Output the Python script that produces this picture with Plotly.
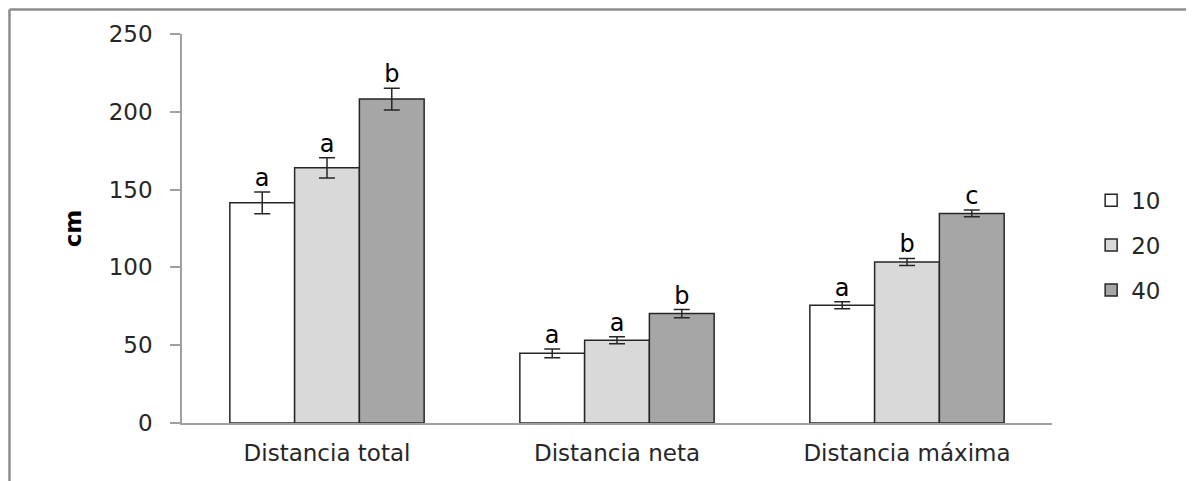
import plotly.graph_objects as go

categories = ["Distancia total", "Distancia neta", "Distancia máxima"]
series_names = ["10", "20", "40"]
values_10 = [141.5, 44.8, 75.7]
values_20 = [164.0, 53.2, 103.5]
values_40 = [208.2, 70.3, 134.7]
errors_10 = [7.0, 2.8, 2.3]
errors_20 = [6.5, 2.3, 2.3]
errors_40 = [7.0, 2.6, 2.2]
letters_10 = ["a", "a", "a"]
letters_20 = ["a", "a", "b"]
letters_40 = ["b", "b", "c"]
y_ticks = [0, 50, 100, 150, 200, 250]

colors = ["#ffffff", "#d9d9d9", "#a6a6a6"]
FONT = "DejaVu Sans"
TXT = "#262626"
FS = 23

fig = go.Figure()
all_vals = [values_10, values_20, values_40]
all_errs = [errors_10, errors_20, errors_40]
all_letters = [letters_10, letters_20, letters_40]

for i, name in enumerate(series_names):
    fig.add_trace(go.Bar(
        x=categories, y=all_vals[i], name=name,
        offsetgroup=str(i), legendgroup=name,
        marker=dict(color=colors[i], line=dict(color="#262626", width=1.5)),
        error_y=dict(type="data", array=all_errs[i], color="#262626",
                     thickness=1.5, width=8),
    ))

for i, name in enumerate(series_names):
    tops = [v + e for v, e in zip(all_vals[i], all_errs[i])]
    fig.add_trace(go.Scatter(
        x=categories, y=tops, mode="text", text=all_letters[i],
        textposition="top center", offsetgroup=str(i),
        textfont=dict(family=FONT, size=24, color="#000000"),
        showlegend=False, hoverinfo="skip",
    ))

fig.update_layout(
    width=1186, height=473,
    margin=dict(l=174, r=142, t=26, b=58),
    paper_bgcolor="white", plot_bgcolor="white",
    barmode="group", bargap=0.33, bargroupgap=0,
    scattermode="group", scattergap=0.33,
    font=dict(family=FONT, size=FS, color=TXT),
    showlegend=True,
    legend=dict(x=1.045, xanchor="left", y=0.457, yanchor="middle",
                font=dict(family=FONT, size=FS, color=TXT),
                tracegroupgap=12, bgcolor="rgba(0,0,0,0)"),
    xaxis=dict(showline=True, linecolor="#a0a0a0", linewidth=1.5,
               ticks="", showgrid=False, tickfont=dict(size=FS, color=TXT),
               ticklabelstandoff=9),
    yaxis=dict(range=[0, 250], tickvals=y_ticks, showline=True,
               linecolor="#a0a0a0", linewidth=1.5, ticks="outside",
               ticklen=10, tickcolor="#a0a0a0", tickwidth=1.5,
               showgrid=False, zeroline=False,
               tickfont=dict(size=FS, color=TXT), ticklabelstandoff=13,
               title=dict(text="<b>cm</b>", font=dict(size=FS, color="#000000"),
                          standoff=21)),
    shapes=[
        dict(type="line", xref="paper", yref="paper", x0=-0.1983, x1=1.2,
             y0=1.063, y1=1.063, line=dict(color="#8c8c8c", width=2.5)),
        dict(type="line", xref="paper", yref="paper", x0=-0.1983, x1=-0.1983,
             y0=1.063, y1=-0.3, line=dict(color="#8c8c8c", width=2.5)),
    ],
)

fig.write_html("out.html")
